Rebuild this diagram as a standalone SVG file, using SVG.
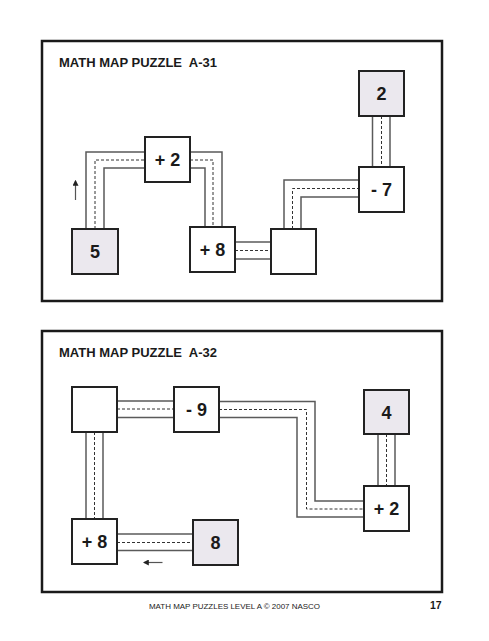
<svg xmlns="http://www.w3.org/2000/svg" width="489" height="641" viewBox="0 0 489 641">
<defs>
<style>
.frame{fill:none;stroke:#1a1a1a;stroke-width:2.5}
.title{font-family:"Liberation Sans",Arial,sans-serif;font-weight:bold;font-size:13px;fill:#1a1a1a;white-space:pre}
.box{fill:#ffffff;stroke:#222;stroke-width:2}
.start{fill:#ebe8ee;stroke:#222;stroke-width:2}
.num{font-family:"Liberation Sans",Arial,sans-serif;font-weight:bold;font-size:18px;fill:#1a1a1a;text-anchor:middle}
.edge{fill:none;stroke:#5a5a5a;stroke-width:1.5}
.mid{fill:none;stroke:#333;stroke-width:1;stroke-dasharray:3,2}
.arrow{fill:none;stroke:#555;stroke-width:1.2}
.foot{font-family:"Liberation Sans",Arial,sans-serif;font-size:8px;fill:#1a1a1a}
.page{font-family:"Liberation Sans",Arial,sans-serif;font-weight:bold;font-size:10.5px;fill:#1a1a1a}
</style>
<marker id="ah" viewBox="0 0 10 10" refX="8" refY="5" markerWidth="5" markerHeight="5" orient="auto" markerUnits="strokeWidth">
<path d="M0,0 L10,5 L0,10 z" fill="#222"/>
</marker>
</defs>
<rect width="489" height="641" fill="#ffffff"/>

<rect class="frame" x="42" y="41" width="400" height="260"/>
<text class="title" x="59" y="67" xml:space="preserve">MATH MAP PUZZLE  A-31</text>
<rect class="frame" x="42" y="331" width="400" height="261"/>
<text class="title" x="59" y="357" xml:space="preserve">MATH MAP PUZZLE  A-32</text>

<g id="connectors">
  <!-- top puzzle -->
  <path class="edge" d="M86,229 V152 H145"/>
  <path class="edge" d="M104,229 V168 H145"/>
  <path class="mid" d="M95,229 V160 H145"/>

  <path class="edge" d="M190,152 H222 V227"/>
  <path class="edge" d="M190,168 H205 V227"/>
  <path class="mid" d="M190,160 H213 V227"/>

  <path class="edge" d="M235,242 H271"/>
  <path class="edge" d="M235,259 H271"/>
  <path class="mid" d="M235,250.5 H271"/>

  <path class="edge" d="M284,229 V180 H359"/>
  <path class="edge" d="M301,229 V197 H359"/>
  <path class="mid" d="M292.5,229 V188.5 H359"/>

  <path class="edge" d="M372.5,116 V167"/>
  <path class="edge" d="M390,116 V167"/>
  <path class="mid" d="M381.5,116 V167"/>

  <line class="arrow" x1="75.5" y1="200" x2="75.5" y2="181" marker-end="url(#ah)"/>

  <!-- bottom puzzle -->
  <path class="edge" d="M117,401 H174"/>
  <path class="edge" d="M117,417.5 H174"/>
  <path class="mid" d="M117,409 H174"/>

  <path class="edge" d="M219,401.5 H315 V501 H364"/>
  <path class="edge" d="M219,417.5 H297 V517 H364"/>
  <path class="mid" d="M219,409.5 H306.5 V509 H364"/>

  <path class="edge" d="M378,434 V486"/>
  <path class="edge" d="M395,434 V486"/>
  <path class="mid" d="M386.5,434 V486"/>

  <path class="edge" d="M86,432 V519"/>
  <path class="edge" d="M103,432 V519"/>
  <path class="mid" d="M94.5,432 V519"/>

  <path class="edge" d="M117,534 H193"/>
  <path class="edge" d="M117,550.5 H193"/>
  <path class="mid" d="M117,542.5 H193"/>

  <line class="arrow" x1="162.5" y1="562.5" x2="144" y2="562.5" marker-end="url(#ah)"/>
</g>

<g id="a31-start">
  <rect class="start" x="72" y="229" width="46" height="45"/>
  <text class="num" x="95" y="258">5</text>
</g>
<g id="a31-plus2">
  <rect class="box" x="145" y="137" width="45" height="45"/>
  <text class="num" x="167.5" y="166">+ 2</text>
</g>
<g id="a31-plus8">
  <rect class="box" x="190" y="227" width="45" height="45"/>
  <text class="num" x="212.5" y="256">+ 8</text>
</g>
<g id="a31-blank">
  <rect class="box" x="271" y="229" width="45" height="45"/>
</g>
<g id="a31-minus7">
  <rect class="box" x="359" y="167" width="45" height="45"/>
  <text class="num" x="381.5" y="196">- 7</text>
</g>
<g id="a31-end">
  <rect class="start" x="359" y="71" width="45" height="45"/>
  <text class="num" x="381.5" y="100">2</text>
</g>

<g id="a32-blank">
  <rect class="box" x="72" y="387" width="45" height="45"/>
</g>
<g id="a32-minus9">
  <rect class="box" x="174" y="387" width="45" height="45"/>
  <text class="num" x="196.5" y="416">- 9</text>
</g>
<g id="a32-plus8">
  <rect class="box" x="72" y="519" width="45" height="45"/>
  <text class="num" x="94.5" y="548">+ 8</text>
</g>
<g id="a32-start">
  <rect class="start" x="193" y="520" width="45" height="45"/>
  <text class="num" x="215.5" y="549">8</text>
</g>
<g id="a32-end">
  <rect class="start" x="364" y="390" width="45" height="44"/>
  <text class="num" x="386.5" y="418.5">4</text>
</g>
<g id="a32-plus2">
  <rect class="box" x="364" y="486" width="45" height="45"/>
  <text class="num" x="386.5" y="515">+ 2</text>
</g>

<text class="foot" x="149" y="609" textLength="171" lengthAdjust="spacingAndGlyphs">MATH MAP PUZZLES LEVEL A © 2007 NASCO</text>
<text class="page" x="430" y="609">17</text>
</svg>
